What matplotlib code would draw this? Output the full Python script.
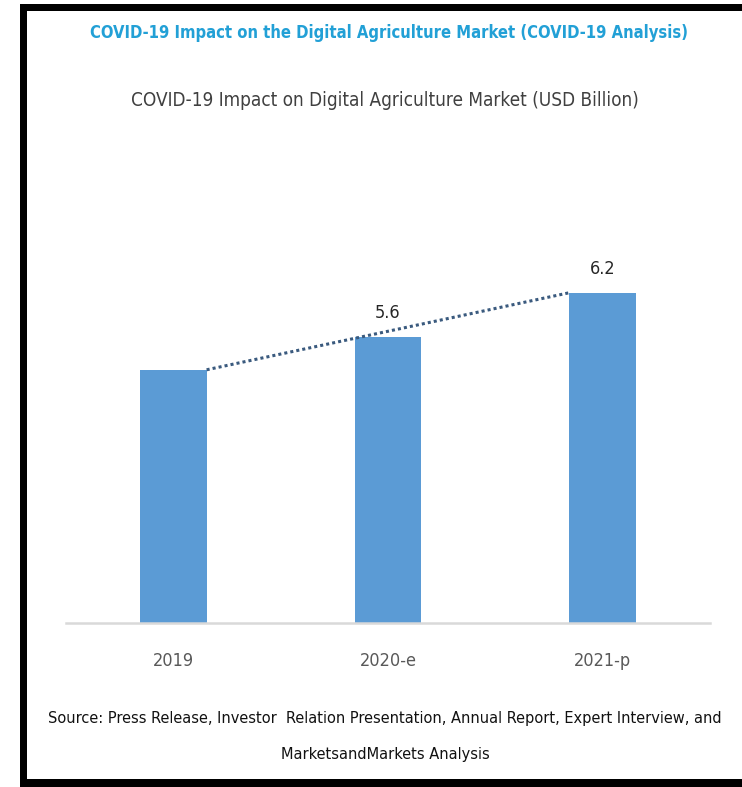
"""
Bar chart of the COVID-19 impact on the digital agriculture market.
"""

import matplotlib.pyplot as plt
from matplotlib.patches import Rectangle

# Chart data
years = ['2019', '2020-e', '2021-p']
market = [5.15, 5.6, 6.2]
shown_labels = [None, '5.6', '6.2']

title = 'COVID-19 Impact on the Digital Agriculture Market (COVID-19 Analysis)'
subtitle = 'COVID-19 Impact on Digital Agriculture Market (USD Billion)'
source_lines = ['Source: Press Release, Investor  Relation Presentation, Annual Report, '
                'Expert Interview, and',
                'MarketsandMarkets Analysis']

W, H = 742, 787
FONT = dict(family='DejaVu Sans', fontstretch='condensed')


def px(x, y):
    """Convert pixel position (from top left) to figure fraction."""
    return x / W, 1 - y / H


fig = plt.figure(figsize=(W / 100, H / 100), dpi=100)
fig.patch.set_facecolor('white')

# axes from x=66..710 px, y=234..623 px
left, top = px(66, 234)
right, bottom = px(710, 623)
ax = fig.add_axes([left, bottom, right - left, top - bottom])

x = list(range(len(years)))
bar_w = 0.31
ax.bar(x, market, width=bar_w, color='#5b9bd5', zorder=2)
ax.set_xlim(-0.5, 2.5)
ax.set_ylim(1.7, 7.0)

# dotted trend line from the first bar top to the last bar top
ax.plot([x[0] + bar_w / 2, x[-1] - bar_w / 2], [market[0], market[-1]],
        linestyle=(0, (1, 1)), color='#3a5a7e', linewidth=2.2, zorder=3)

for xi, v, lab in zip(x, market, shown_labels):
    if lab is None:
        continue
    ax.annotate(lab, (xi, v), xytext=(0, 15), textcoords='offset pixels',
                ha='center', va='bottom', fontsize=13, color='#262626', **FONT)

for s in ['top', 'right', 'left']:
    ax.spines[s].set_visible(False)
ax.spines['bottom'].set_color('#d9d9d9')
ax.spines['bottom'].set_linewidth(1.8)
ax.set_yticks([])
ax.set_xticks(x)
ax.set_xticklabels(years, fontsize=13, color='#595959', **FONT)
ax.tick_params(axis='x', length=0, pad=21)

fig.text(*px(389, 33), title, ha='center', va='center', fontsize=11.9,
         fontweight='bold', color='#22a0d6', **FONT)
fig.text(*px(385, 101), subtitle, ha='center', va='center', fontsize=13.6,
         color='#404040', **FONT)
for i, line in enumerate(source_lines):
    fig.text(*px(385, 718 + 37 * i), line, ha='center', va='center',
             fontsize=11.7, color='#111111', **FONT)

# black frame: left, top and bottom edges
for (x0, y0, w, h) in [(20, 4, 7, 783), (20, 4, 722, 7), (20, 779, 722, 8)]:
    fx, fy = px(x0, y0 + h)
    fig.add_artist(Rectangle((fx, fy), w / W, h / H, transform=fig.transFigure,
                             color='black', lw=0))

fig.savefig('out.png', dpi=100)
